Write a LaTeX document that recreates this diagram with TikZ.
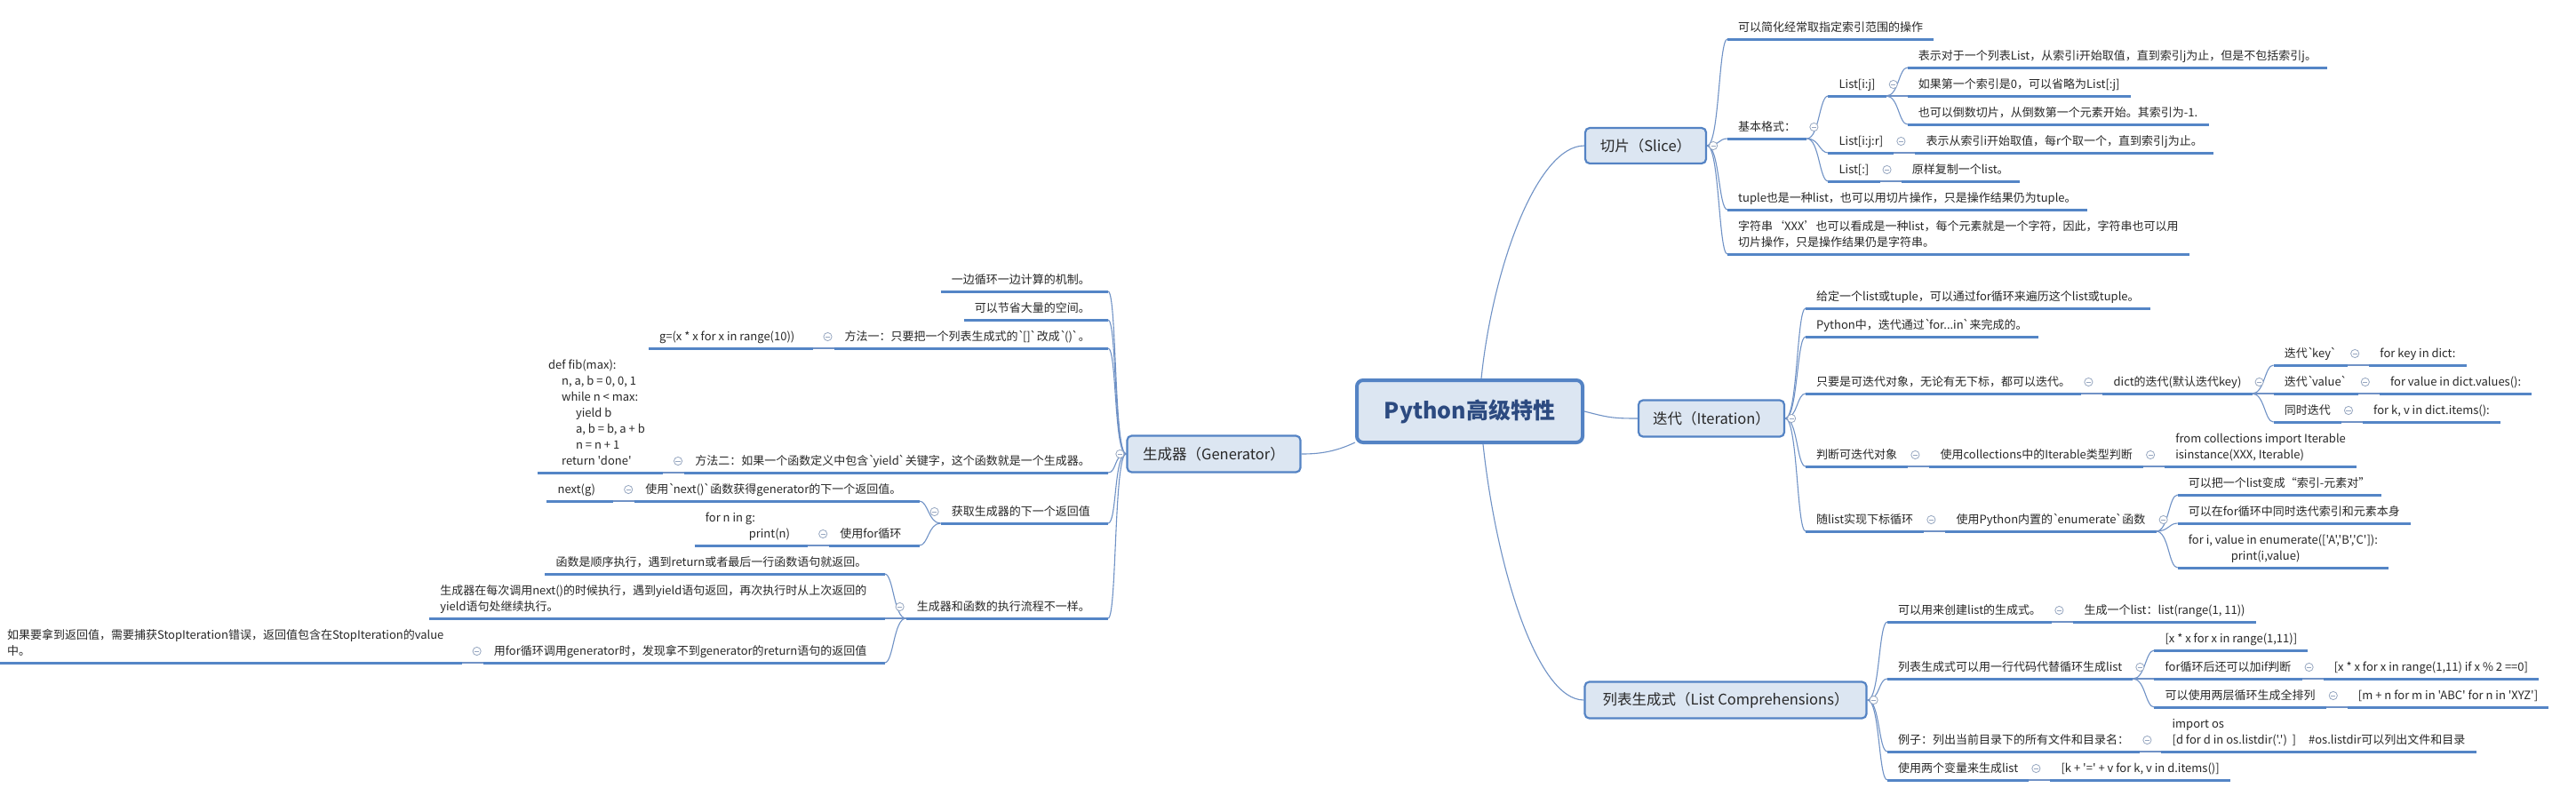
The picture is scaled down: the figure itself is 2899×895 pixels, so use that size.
\documentclass[tikz,border=0pt]{standalone}
\usepackage{fontspec}
\setmonofont{Noto Sans CJK SC}
\usetikzlibrary{calc}
\definecolor{ulc}{RGB}{84,133,198}
\definecolor{cnc}{RGB}{112,146,198}
\definecolor{boxf}{RGB}{220,230,242}
\definecolor{boxd}{RGB}{84,131,196}
\definecolor{txt}{RGB}{40,40,40}
\definecolor{ctxt}{RGB}{44,74,128}
\definecolor{togc}{RGB}{150,166,192}
\newcommand\bo{`\kern-2.5pt}
\newcommand\bc{\kern-1pt`}
\tikzset{
  x=1pt, y=-1pt,
  leaf/.style={inner xsep=12pt, inner ysep=5pt, text depth=3pt, align=left,
    font=\ttfamily\fontsize{13pt}{18pt}\selectfont, text=txt},
  ul/.style={line width=3pt, draw=ulc},
  conn/.style={line width=1.1pt, draw=cnc},
  tog/.style={draw=togc, line width=0.8pt, fill=white},
  topic/.style={draw=boxd, line width=2.2pt, fill=boxf, rounded corners=5pt,
    font=\ttfamily\fontsize{16.5pt}{20pt}\selectfont, text=txt, inner sep=0pt},
  central/.style={draw=boxd, line width=4pt, fill=boxf, rounded corners=7pt,
    font=\ttfamily\bfseries\fontsize{25pt}{30pt}\selectfont, text=ctxt, inner sep=0pt,
    minimum width=254pt, minimum height=70pt},
}
\newcommand\nodeR[3]{\node[leaf,anchor=south west] (#1) at (#2) {#3};
  \coordinate (#1-s) at (#1.south west); \coordinate (#1-e) at (#1.south east);
  \draw[ul] (#1-s) -- (#1-e);}
\newcommand\nodeL[3]{\node[leaf,anchor=south east] (#1) at (#2) {#3};
  \coordinate (#1-s) at (#1.south west); \coordinate (#1-e) at ($(#1.south east)+(8,0)$);
  \draw[ul] (#1-s) -- (#1-e);}
\newcommand\cR[2]{\draw[conn] (#1) .. controls ($(#1)+(14,0)$) and ($(#2)+(-10,0)$) .. (#2);}
\newcommand\cL[2]{\draw[conn] (#1) .. controls ($(#1)+(-14,0)$) and ($(#2)+(10,0)$) .. (#2);}
\newcommand\tog[1]{\begin{scope}[shift={(#1)}]\draw[tog] (0,0) circle[radius=4.6pt];
  \draw[tog] (-2.6,0) -- (2.6,0);\end{scope}}
\begin{document}
\begin{tikzpicture}
\fill[white] (0,0) rectangle (2899,895);
\useasboundingbox (0,0) rectangle (2899,895);

% main nodes
\node[central] (root) at (1654,463) {Python高级特性};
\node[topic, minimum width=136pt, minimum height=40pt] (slice) at (1852,164) {切片（Slice）};
\node[topic, minimum width=164pt, minimum height=41pt] (iter) at (1926,471) {迭代（Iteration）};
\node[topic, minimum width=317pt, minimum height=41pt] (lc) at (1942,788) {列表生成式（List Comprehensions）};
\node[topic, minimum width=195pt, minimum height=41pt] (gen) at (1366,511) {生成器（Generator）};

% Slice
\nodeR{s1}{1944,44}{可以简化经常取指定索引范围的操作}
\nodeR{s2}{1944,156}{基本格式：}
\nodeR{s2a}{$(s2-e |- 0,108)+(24,0)$}{List[i:j]}
\nodeR{s2a1}{$(s2a-e |- 0,76)+(24,0)$}{表示对于一个列表List，从索引i开始取值，直到索引j为止，但是不包括索引j。}
\nodeR{s2a2}{$(s2a-e |- 0,108)+(24,0)$}{如果第一个索引是0，可以省略为List[:j]}
\nodeR{s2a3}{$(s2a-e |- 0,140)+(24,0)$}{也可以倒数切片，从倒数第一个元素开始。其索引为-1.}
\nodeR{s2b}{$(s2-e |- 0,172)+(24,0)$}{List[i:j:r]}
\nodeR{s2b1}{$(s2b-e)+(24,0)$}{表示从索引i开始取值，每r个取一个，直到索引j为止。}
\nodeR{s2c}{$(s2-e |- 0,204)+(24,0)$}{List[:]}
\nodeR{s2c1}{$(s2c-e)+(24,0)$}{原样复制一个list。}
\nodeR{s3}{1944,236}{tuple也是一种list，也可以用切片操作，只是操作结果仍为tuple。}
\nodeR{s4}{1944,286}{字符串‘XXX’也可以看成是一种list，每个元素就是一个字符，因此，字符串也可以用\\切片操作，只是操作结果仍是字符串。}

% Iteration
\nodeR{i1}{2032,347}{给定一个list或tuple，可以通过for循环来遍历这个list或tuple。}
\nodeR{i2}{2032,379}{Python中，迭代通过\bo for...in\bc 来完成的。}
\nodeR{i3}{2032,443}{只要是可迭代对象，无论有无下标，都可以迭代。}
\nodeR{i3a}{$(i3-e)+(24,0)$}{dict的迭代(默认迭代key)}
\nodeR{i3a1}{$(i3a-e |- 0,411)+(24,0)$}{迭代\bo key\bc}
\nodeR{i3a1a}{$(i3a1-e)+(24,0)$}{for key in dict:}
\nodeR{i3a2}{$(i3a-e |- 0,443)+(24,0)$}{迭代\bo value\bc}
\nodeR{i3a2a}{$(i3a2-e)+(24,0)$}{for value in dict.values():}
\nodeR{i3a3}{$(i3a-e |- 0,475)+(24,0)$}{同时迭代}
\nodeR{i3a3a}{$(i3a3-e)+(24,0)$}{for k, v in dict.items():}
\nodeR{i4}{2032,525}{判断可迭代对象}
\nodeR{i4a}{$(i4-e)+(24,0)$}{使用collections中的Iterable类型判断}
\nodeR{i4a1}{$(i4a-e)+(24,0)$}{from collections import Iterable\\isinstance(XXX, Iterable)}
\nodeR{i5}{2032,598}{随list实现下标循环}
\nodeR{i5a}{$(i5-e)+(24,0)$}{使用Python内置的\bo enumerate\bc 函数}
\nodeR{i5a1}{$(i5a-e |- 0,557)+(24,0)$}{可以把一个list变成“索引-元素对”}
\nodeR{i5a2}{$(i5a-e |- 0,589)+(24,0)$}{可以在for循环中同时迭代索引和元素本身}
\nodeR{i5a3}{$(i5a-e |- 0,639)+(24,0)$}{for i, value in enumerate(['A','B','C']):\\\hspace*{48pt}print(i,value)}

% List Comprehensions
\nodeR{l1}{2124,700}{可以用来创建list的生成式。}
\nodeR{l1a}{$(l1-e)+(24,0)$}{生成一个list：list(range(1, 11))}
\nodeR{l2}{2124,764}{列表生成式可以用一行代码代替循环生成list}
\nodeR{l2a}{$(l2-e |- 0,732)+(24,0)$}{[x * x for x in range(1,11)]}
\nodeR{l2b}{$(l2-e |- 0,764)+(24,0)$}{for循环后还可以加if判断}
\nodeR{l2b1}{$(l2b-e)+(24,0)$}{[x * x for x in range(1,11) if x \% 2 ==0]}
\nodeR{l2c}{$(l2-e |- 0,796)+(24,0)$}{可以使用两层循环生成全排列}
\nodeR{l2c1}{$(l2c-e)+(24,0)$}{[m + n for m in 'ABC' for n in 'XYZ']}
\nodeR{l3}{2124,846}{例子：列出当前目录下的所有文件和目录名：}
\nodeR{l3a}{$(l3-e)+(24,0)$}{import os\\{}[d for d in os.listdir('.')\ \ ]\hspace*{14pt}\#os.listdir可以列出文件和目录}
\nodeR{l4}{2124,878}{使用两个变量来生成list}
\nodeR{l4a}{$(l4-e)+(24,0)$}{[k + '=' + v for k, v in d.items()]}

% Generator
\nodeL{g1}{1239,328}{一边循环一边计算的机制。}
\nodeL{g2}{1239,360}{可以节省大量的空间。}
\nodeL{g3}{1239,392}{方法一：只要把一个列表生成式的\bo[]\bc 改成\bo()\bc 。}
\nodeL{g3a}{$(g3-s)+(-32,0)$}{g=(x * x for x in range(10))}
\nodeL{g4}{1239,532}{方法二：如果一个函数定义中包含\bo yield\bc 关键字，这个函数就是一个生成器。}
\nodeL{g4a}{$(g4-s)+(-32,0)$}{def fib(max):\\\hspace*{15pt}n, a, b = 0, 0, 1\\\hspace*{15pt}while n < max:\\\hspace*{31pt}yield b\\\hspace*{31pt}a, b = b, a + b\\\hspace*{31pt}n = n + 1\\\hspace*{15pt}return 'done'}
\nodeL{g5}{1239,589}{获取生成器的下一个返回值}
\nodeL{g5a}{$(g5-s |- 0,564)+(-32,0)$}{使用\bo next()\bc 函数获得generator的下一个返回值。}
\nodeL{g5a1}{$(g5a-s)+(-32,0)$}{next(g)}
\nodeL{g5b}{$(g5-s |- 0,614)+(-32,0)$}{使用for循环}
\nodeL{g5b1}{$(g5b-s)+(-32,0)$}{for n in g:\\\hspace*{49pt}print(n)}
\nodeL{g6}{1239,696}{生成器和函数的执行流程不一样。}
\nodeL{g6a}{$(g6-s |- 0,646)+(-32,0)$}{函数是顺序执行，遇到return或者最后一行函数语句就返回。}
\nodeL{g6b}{$(g6-s |- 0,696)+(-32,0)$}{生成器在每次调用next()的时候执行，遇到yield语句返回，再次执行时从上次返回的\\yield语句处继续执行。}
\nodeL{g6c}{$(g6-s |- 0,746)+(-32,0)$}{用for循环调用generator时，发现拿不到generator的return语句的返回值}
\nodeL{g6c1}{$(g6c-s)+(-32,0)$}{如果要拿到返回值，需要捕获StopIteration错误，返回值包含在StopIteration的value\\中。}

% root connectors
\draw[conn] ($(root.north)+(13,0)$) .. controls (1680,300) and (1730,164) .. (slice.west);
\draw[conn] (root.east) .. controls (1810,470) and (1815,471) .. (iter.west);
\draw[conn] ($(root.south)+(15,0)$) .. controls (1684,640) and (1730,788) .. (lc.west);
\draw[conn] ($(root.south west)+(0,-2)$) .. controls (1500,510) and (1480,511) .. (gen.east);

% branch connectors
\foreach \q in {s1,s2,s3,s4} {\cR{slice.east}{\q-s}}
\foreach \q in {s2a,s2b,s2c} {\cR{s2-e}{\q-s}}
\foreach \q in {s2a1,s2a2,s2a3} {\cR{s2a-e}{\q-s}}
\cR{s2b-e}{s2b1-s}
\cR{s2c-e}{s2c1-s}

\foreach \q in {i1,i2,i3,i4,i5} {\cR{iter.east}{\q-s}}
\cR{i3-e}{i3a-s}
\foreach \q in {i3a1,i3a2,i3a3} {\cR{i3a-e}{\q-s}}
\cR{i3a1-e}{i3a1a-s}
\cR{i3a2-e}{i3a2a-s}
\cR{i3a3-e}{i3a3a-s}
\cR{i4-e}{i4a-s}
\cR{i4a-e}{i4a1-s}
\cR{i5-e}{i5a-s}
\foreach \q in {i5a1,i5a2,i5a3} {\cR{i5a-e}{\q-s}}

\foreach \q in {l1,l2,l3,l4} {\cR{lc.east}{\q-s}}
\cR{l1-e}{l1a-s}
\foreach \q in {l2a,l2b,l2c} {\cR{l2-e}{\q-s}}
\cR{l2b-e}{l2b1-s}
\cR{l2c-e}{l2c1-s}
\cR{l3-e}{l3a-s}
\cR{l4-e}{l4a-s}

\foreach \q in {g1,g2,g3,g4,g5,g6} {\cL{gen.west}{\q-e}}
\cL{g3-s}{g3a-e}
\cL{g4-s}{g4a-e}
\foreach \q in {g5a,g5b} {\cL{g5-s}{\q-e}}
\cL{g5a-s}{g5a1-e}
\cL{g5b-s}{g5b1-e}
\foreach \q in {g6a,g6b,g6c} {\cL{g6-s}{\q-e}}
\cL{g6c-s}{g6c1-e}

% toggles
\tog{$(slice.east)+(7,0)$}
\tog{$(iter.east)+(7,0)$}
\tog{$(lc.east)+(7,0)$}
\tog{$(gen.west)+(-7,0)$}
\foreach \q in {s2,s2a,s2b,s2c,i3,i3a,i3a1,i3a2,i3a3,i4,i4a,i5,i5a,l1,l2,l2b,l2c,l3,l4} {\tog{$(\q-e)+(8,-13)$}}
\foreach \q in {g3,g4,g5,g5a,g5b,g6,g6c} {\tog{$(\q-s)+(-7,-13)$}}
\end{tikzpicture}
\end{document}
